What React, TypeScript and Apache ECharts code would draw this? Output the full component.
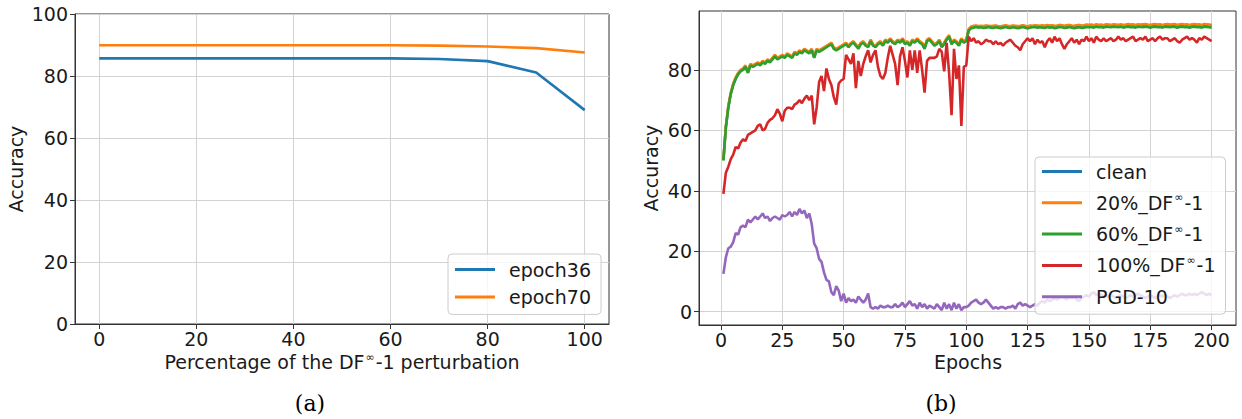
import React, { useEffect, useRef } from "react";
import * as echarts from "echarts";

// ---------- Data: chart (a) ----------
const PCT = [0, 10, 20, 30, 40, 50, 60, 70, 80, 90, 100];
const EPOCH36 = [85.7, 85.7, 85.7, 85.7, 85.7, 85.7, 85.7, 85.5, 84.8, 81.1, 69.0];
const EPOCH70 = [89.9, 89.9, 89.9, 89.9, 89.9, 89.9, 89.9, 89.8, 89.5, 89.0, 87.6];
const PCT_TICKS = [0, 20, 40, 60, 80, 100];
const ACC_TICKS_A = [0, 20, 40, 60, 80, 100];

// ---------- Data: chart (b) ----------
const EPOCHS = Array.from({ length: 200 }, (_, i) => i + 1);
const EPOCH_TICKS = [0, 25, 50, 75, 100, 125, 150, 175, 200];
const ACC_TICKS_B = [0, 20, 40, 60, 80];

const CLEAN = [
  50.2, 61, 67.8, 72.2, 75.2, 77.2, 78.8, 79.8, 80.2, 81.2,
  79.2, 81.8, 81.2, 81.8, 82.2, 81.8, 82.8, 82.2, 83.2, 82.8,
  83.8, 84.8, 83.8, 84.2, 84.8, 84.2, 85.2, 84.8, 84.2, 85.8,
  85.2, 86.2, 85.8, 86.8, 86.2, 85.8, 86.8, 84.2, 86.8, 86.2,
  86.8, 87.2, 87.8, 88.2, 88.8, 87.2, 86.8, 87.2, 87.8, 88.2,
  88.8, 87.8, 88.8, 89.2, 88.2, 87.2, 88.8, 89.2, 88.2, 87.8,
  89.8, 88.2, 87.8, 88.8, 89.2, 88.2, 89.8, 89.2, 90.2, 89.2,
  88.8, 89.8, 89.2, 90.2, 88.8, 89.2, 88.2, 89.8, 89.2, 90.2,
  89.2, 88.8, 87.2, 89.8, 90.2, 89.2, 88.2, 88.8, 89.8, 87.8,
  88.8, 90.2, 91.2, 88.8, 89.8, 89.2, 88.2, 90.2, 89.2, 89.8,
  93.3, 94.2, 94.4, 94.5, 94.3, 94.4, 94.3, 94.5, 94.4, 94.3,
  94.4, 94.5, 94.3, 94.2, 94.4, 94.6, 94.4, 94.3, 94.5, 94.4,
  94.3, 94.4, 94.6, 94.4, 94.2, 94.5, 94.4, 94.6, 94.5, 94.4,
  94.6, 94.4, 94.7, 94.5, 94.6, 94.4, 94.5, 94.7, 94.6, 94.4,
  94.6, 94.7, 94.5, 94.4, 94.6, 94.7, 94.5, 94.6, 94.8, 94.7,
  94.8, 94.6, 94.9, 94.7, 94.8, 94.6, 94.9, 94.8, 94.7, 94.9,
  94.8, 94.7, 94.9, 94.7, 94.8, 95.0, 94.8, 94.9, 94.7, 94.9,
  94.8, 94.9, 95.0, 94.8, 94.7, 94.9, 95.0, 94.8, 94.9, 94.7,
  94.9, 95.0, 94.8, 94.9, 95.0, 94.7, 94.9, 95.0, 94.8, 94.9,
  94.7, 94.9, 95.0, 94.8, 94.9, 94.7, 95.0, 94.9, 94.8, 94.7,
];

const DF20 = [
  50.5, 61.5, 68, 72.5, 75.5, 77.5, 79, 80, 80.5, 81.5,
  79.5, 82, 81.5, 82, 82.5, 82, 83, 82.5, 83.5, 83,
  84, 85, 84, 84.5, 85, 84.5, 85.5, 85, 84.5, 86,
  85.5, 86.5, 86, 87, 86.5, 86, 87, 84.5, 87, 86.5,
  87, 87.5, 88, 88.5, 89, 87.5, 87, 87.5, 88, 88.5,
  89, 88, 89, 89.5, 88.5, 87.5, 89, 89.5, 88.5, 88,
  90, 88.5, 88, 89, 89.5, 88.5, 90, 89.5, 90.5, 89.5,
  89, 90, 89.5, 90.5, 89, 89.5, 88.5, 90, 89.5, 90.5,
  89.5, 89, 87.5, 90, 90.5, 89.5, 88.5, 89, 90, 88,
  89, 90.5, 91.5, 89, 90, 89.5, 88.5, 90.5, 89.5, 90,
  93.5, 94.4, 94.6, 94.7, 94.5, 94.6, 94.5, 94.7, 94.6, 94.5,
  94.6, 94.7, 94.5, 94.4, 94.6, 94.8, 94.6, 94.5, 94.7, 94.6,
  94.5, 94.6, 94.8, 94.6, 94.4, 94.7, 94.6, 94.8, 94.7, 94.6,
  94.8, 94.6, 94.9, 94.7, 94.8, 94.6, 94.7, 94.9, 94.8, 94.6,
  94.8, 94.9, 94.7, 94.6, 94.8, 94.9, 94.7, 94.8, 95.0, 94.9,
  95.0, 94.8, 95.1, 94.9, 95.0, 94.8, 95.1, 95.0, 94.9, 95.1,
  95.0, 94.9, 95.1, 94.9, 95.0, 95.2, 95.0, 95.1, 94.9, 95.1,
  95.0, 95.1, 95.2, 95.0, 94.9, 95.1, 95.2, 95.0, 95.1, 94.9,
  95.1, 95.2, 95.0, 95.1, 95.2, 94.9, 95.1, 95.2, 95.0, 95.1,
  94.9, 95.1, 95.2, 95.0, 95.1, 94.9, 95.2, 95.1, 95.0, 94.9,
];

const DF60 = [
  50, 61, 67.5, 72, 75, 77, 78.5, 79.5, 80, 81,
  79, 81.5, 81, 81.5, 82, 81.5, 82.5, 82, 83, 82.5,
  83.5, 84.5, 83.5, 84, 84.5, 84, 85, 84.5, 84, 85.5,
  85, 86, 85.5, 86.5, 86, 85.5, 86.5, 84, 86.5, 86,
  86.5, 87, 87.5, 88, 88.5, 87, 86.5, 87, 87.5, 88,
  88.5, 87.5, 88.5, 89, 88, 87, 88.5, 89, 88, 87.5,
  89.5, 88, 87.5, 88.5, 89, 88, 89.5, 89, 90, 89,
  88.5, 89.5, 89, 90, 88.5, 89, 88, 89.5, 89, 90,
  89, 88.5, 87, 89.5, 90, 89, 88, 88.5, 89.5, 87.5,
  88.5, 90, 91, 88.5, 89.5, 89, 88, 90, 89, 89.5,
  93, 93.8, 94, 94.2, 94, 94.1, 93.9, 94, 94.2, 94,
  93.9, 94.1, 94, 93.8, 94, 94.2, 94, 93.9, 94.1, 94,
  93.8, 94, 94.2, 94, 93.7, 94, 94.1, 94.2, 94, 94.1,
  94, 93.9, 94.2, 94, 94.1, 93.8, 94, 94.2, 94.1, 93.9,
  94, 94.2, 94, 93.8, 94, 94.1, 93.9, 94, 94.2, 94.1,
  94.2, 94, 94.3, 94.1, 94.2, 94, 94.3, 94.2, 94.1, 94.3,
  94.2, 94.1, 94.3, 94, 94.2, 94.3, 94.1, 94.2, 94, 94.3,
  94.2, 94.1, 94.3, 94.2, 94, 94.2, 94.3, 94.1, 94.2, 94,
  94.3, 94.2, 94.1, 94.3, 94.2, 94, 94.2, 94.3, 94.1, 94.2,
  94, 94.2, 94.3, 94.1, 94.2, 94, 94.3, 94.2, 94.1, 94,
];

const DF100 = [
  39, 46, 48, 50.5, 52, 54.5, 54, 56, 57, 56.5,
  58.5, 59, 59.5, 60, 61.5, 62, 60, 60.5, 62.5, 63.5,
  64, 65, 67, 65.5, 63, 66.5, 67.5, 67.5, 67, 68.5,
  69, 70, 69, 70.5, 71.5, 70, 71.5, 62, 67.5, 76,
  78, 73, 80.5, 77, 75, 71, 68.5, 75.5, 76.5, 77,
  85, 83.5, 82, 85.5, 74, 83, 78, 82, 84.5, 86.5,
  82.5, 85, 86.5, 81, 78, 77, 79, 84, 88, 85,
  82, 75, 84.5, 87.5, 83, 77.5, 86.5, 80, 86.5, 79,
  86.5, 80, 72.5, 83, 84, 84, 84, 84.5, 87, 86,
  79.5, 89, 79, 65, 87, 77, 81.5, 61.5, 81, 81.5,
  91, 89.5, 90.5, 89, 89.5, 88.5, 89, 90, 89.5, 89.5,
  88.5, 89.5, 88.5, 89, 88, 89, 89.5, 90, 89, 88,
  87.5, 86.5, 88.5, 89.5, 90.5, 89.5, 90.5, 88.5, 90, 89,
  89.5, 87.5, 89.5, 90.5, 89, 91, 89.5, 90.5, 88.5, 87,
  88.5, 89.5, 90.5, 89, 90, 88.5, 90, 89.5, 91, 89.5,
  90.5, 89, 91, 90, 89.5, 90.5, 89.5, 90, 90.5, 89.5,
  90, 91, 90, 90.5, 89.5, 90, 90.5, 91, 89.5, 90,
  90.5, 90, 91, 89.5, 90, 90.5, 89.5, 90.5, 91, 90,
  90.5, 90.5, 89.5, 90, 90.5, 89.5, 89, 90, 90.5, 91,
  90, 90.5, 90, 89, 90.5, 90, 91, 90.5, 90, 89.5,
];

const PGD10 = [
  12.5, 18, 21, 21.5, 23, 26, 25.5, 28, 28.5, 28,
  30.5, 29.5, 30.5, 31.5, 30.5, 31.5, 32.5, 31, 31.5, 30,
  31, 31.5, 31, 30.5, 32, 31.5, 32, 33, 31.5, 33,
  32, 34, 32.5, 33.5, 31, 32.5, 29, 22.5, 21, 17.5,
  16.5, 13, 10.5, 10, 6.5, 5.5, 8.5, 7, 3.5, 6,
  3, 4.5, 3.5, 4, 3, 5, 4, 3, 4, 6,
  1.5, 1, 1.5, 1, 2, 1.5, 1.5, 2, 1.5, 1.5,
  2.5, 1.5, 2, 3, 1.5, 2.5, 3.5, 2, 2.5, 1,
  3, 1.5, 2.5, 1, 2, 1.5, 1, 2.5, 1.5, 0.5,
  3, 1, 2.5, 0.5, 3, 1, 2.5, 0.5, 1.5, 1.5,
  2, 3, 3.5, 4, 3, 2.5, 3, 4, 3, 2,
  1, 1.5, 1, 1.5, 1.5, 1, 1.5, 1.5, 2, 1,
  2.5, 3, 2, 2.5, 2, 1.5, 2, 2.5, 2, 3,
  3.5, 3, 4, 3.5, 4, 4.5, 4, 4.5, 5, 4.5,
  4, 5, 4.5, 5, 4, 3.5, 4.5, 5, 5.5, 5,
  6, 6.5, 5.5, 6, 5.5, 5, 5.5, 5, 5.5, 5,
  4.5, 5, 5.5, 5, 4.5, 5, 5.5, 5, 5.5, 6,
  5.5, 5, 4.5, 5, 5.5, 5, 4.5, 5, 5.5, 5,
  5.5, 5, 4.5, 5, 5.5, 5, 5.5, 6, 5.5, 5.5,
  6, 5.5, 6, 5.5, 6, 6.5, 6, 5.5, 6, 5.5,
];

const NAMES_B = ["clean", "20%_DF∞-1", "60%_DF∞-1", "100%_DF∞-1", "PGD-10"];
const SERIES_B = [CLEAN, DF20, DF60, DF100, PGD10];
const COLORS = ["#1f77b4", "#ff7f0e", "#2ca02c", "#d62728", "#9467bd"];

const FONT = "DejaVu Sans";
const FS = 19;
const TXT = "#1a1a1a";
const GRIDC = "#d3d3d3";
const BOX = "#333333";

function pairs(xs: number[], ys: number[]) {
  return ys.map((y, i) => [xs[i], y]);
}

function axisCfg(gridIndex: number, min: number, max: number, ticks: number[], margin: number) {
  return {
    gridIndex,
    type: "value",
    min,
    max,
    axisLine: { show: true, onZero: false, lineStyle: { color: BOX, width: 1 } },
    axisTick: { show: true, length: 5, lineStyle: { color: BOX, width: 1 }, customValues: ticks },
    axisLabel: { customValues: ticks, margin, fontSize: FS, fontFamily: FONT, color: TXT },
    splitLine: { show: true, lineStyle: { color: GRIDC, width: 1 } },
  };
}

function lineSeries(name: string, data: number[][], color: string, idx: number) {
  return {
    type: "line",
    name,
    data,
    xAxisIndex: idx,
    yAxisIndex: idx,
    symbol: "none",
    showSymbol: false,
    lineStyle: { color, width: 2.6 },
    itemStyle: { color },
    emphasis: { disabled: true },
  };
}

const supRich = {
  sup: { fontSize: 11, fontFamily: FONT, color: TXT, verticalAlign: "top", lineHeight: 21, padding: [0, 1, 0, 1] },
};

export default function App() {
  const ref = useRef<HTMLDivElement>(null);

  useEffect(() => {
    if (!ref.current) return;
    const chart = echarts.init(ref.current, undefined, { renderer: "svg" });

    const option: any = {
      animation: false,
      backgroundColor: "#ffffff",
      grid: [
        { left: 75, top: 14, width: 534, height: 310, show: true, borderColor: BOX, borderWidth: 1, backgroundColor: "transparent" },
        { left: 699, top: 11, width: 537, height: 314, show: true, borderColor: BOX, borderWidth: 1, backgroundColor: "transparent" },
      ],
      xAxis: [axisCfg(0, -5, 105, PCT_TICKS, 5), axisCfg(1, -8.95, 209.95, EPOCH_TICKS, 5)],
      yAxis: [axisCfg(0, 0, 100, ACC_TICKS_A, 7), axisCfg(1, -4.4, 99.5, ACC_TICKS_B, 7)],
      legend: [
        {
          data: ["epoch36", "epoch70"],
          orient: "vertical",
          left: 448,
          top: 254,
          padding: [6, 10, 8, 7],
          itemGap: 8.4,
          itemWidth: 40,
          itemHeight: 3,
          icon: "rect",
          backgroundColor: "rgba(255,255,255,0.8)",
          borderColor: "#cccccc",
          borderWidth: 1,
          borderRadius: 4,
          textStyle: { fontSize: FS, fontFamily: FONT, color: TXT, lineHeight: 19, padding: [0, 0, 0, 9] },
        },
        {
          data: NAMES_B,
          orient: "vertical",
          left: 1035,
          top: 157,
          padding: [4, 10, 7, 7],
          itemGap: 10.3,
          itemWidth: 40,
          itemHeight: 3,
          icon: "rect",
          backgroundColor: "rgba(255,255,255,0.8)",
          borderColor: "#cccccc",
          borderWidth: 1,
          borderRadius: 4,
          formatter: (name: string) => name.replace("∞", "{sup|∞}"),
          textStyle: { fontSize: FS, fontFamily: FONT, color: TXT, lineHeight: 21, padding: [0, 0, 0, 9], rich: supRich },
        },
      ],
      series: [
        lineSeries("epoch36", pairs(PCT, EPOCH36), COLORS[0], 0),
        lineSeries("epoch70", pairs(PCT, EPOCH70), COLORS[1], 0),
        ...NAMES_B.map((n, i) => lineSeries(n, pairs(EPOCHS, SERIES_B[i]), COLORS[i], 1)),
      ],
      graphic: [
        {
          type: "text", x: 16, y: 169, rotation: Math.PI / 2,
          style: { text: "Accuracy", fontSize: FS, fontFamily: FONT, fill: TXT, align: "center", verticalAlign: "middle" },
        },
        {
          type: "text", x: 342, y: 362,
          style: {
            text: "Percentage of the DF{sup|∞}-1 perturbation", fontSize: FS, fontFamily: FONT, fill: TXT,
            align: "center", verticalAlign: "middle", lineHeight: 21, rich: supRich,
          },
        },
        {
          type: "text", x: 651, y: 168, rotation: Math.PI / 2,
          style: { text: "Accuracy", fontSize: FS, fontFamily: FONT, fill: TXT, align: "center", verticalAlign: "middle" },
        },
        {
          type: "text", x: 968, y: 362,
          style: { text: "Epochs", fontSize: FS, fontFamily: FONT, fill: TXT, align: "center", verticalAlign: "middle" },
        },
        {
          type: "text", x: 310, y: 403,
          style: { text: "(a)", fontSize: 22, fontFamily: "DejaVu Serif", fill: "#000", align: "center", verticalAlign: "middle" },
        },
        {
          type: "text", x: 941, y: 403,
          style: { text: "(b)", fontSize: 22, fontFamily: "DejaVu Serif", fill: "#000", align: "center", verticalAlign: "middle" },
        },
      ],
    };

    chart.setOption(option);
    return () => chart.dispose();
  }, []);

  return (
    <div
      ref={ref}
      style={{ position: "absolute", left: 0, top: 0, width: 1242, height: 419 }}
    />
  );
}
